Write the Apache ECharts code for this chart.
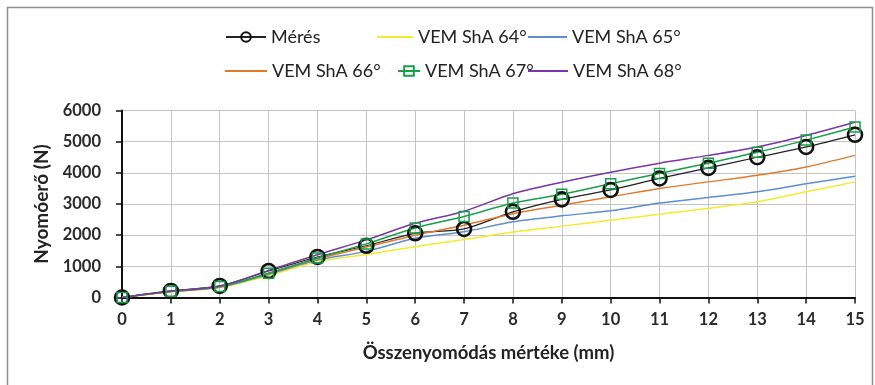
<!DOCTYPE html>
<html>
<head>
<meta charset="utf-8">
<script src="https://cdn.jsdelivr.net/npm/echarts@6/dist/echarts.min.js"></script>
<style>
  html, body { margin: 0; padding: 0; background: #ffffff; }
  #chart { width: 875px; height: 385px; }
</style>
</head>
<body>
<div id="chart"></div>
<script>
// Compression distance (mm)
const xValues = [0, 1, 2, 3, 4, 5, 6, 7, 8, 9, 10, 11, 12, 13, 14, 15];

// Measured compressive force (N)
const meres = [0, 210, 370, 850, 1300, 1660, 2060, 2200, 2750, 3150, 3450, 3820, 4160, 4500, 4830, 5220];

// Simulated curves for each rubber hardness
const sha64 = [0, 180, 320, 700, 1150, 1380, 1630, 1860, 2100, 2290, 2480, 2670, 2860, 3070, 3390, 3710];
const sha65 = [0, 190, 330, 740, 1200, 1480, 1900, 2110, 2430, 2620, 2780, 3030, 3210, 3390, 3650, 3890];
const sha66 = [0, 195, 340, 770, 1240, 1620, 2000, 2320, 2690, 2960, 3230, 3500, 3710, 3920, 4190, 4560];
const sha67 = [0, 200, 350, 780, 1270, 1720, 2230, 2600, 3030, 3310, 3650, 3980, 4310, 4660, 5050, 5470];
const sha68 = [0, 210, 370, 870, 1370, 1850, 2380, 2770, 3330, 3700, 4020, 4310, 4560, 4830, 5200, 5620];

const seriesNames = ['Mérés', 'VEM ShA 64°', 'VEM ShA 65°', 'VEM ShA 66°', 'VEM ShA 67°', 'VEM ShA 68°'];
const yTicks = [0, 1000, 2000, 3000, 4000, 5000, 6000];

const pairs = (ys) => xValues.map((x, i) => [x, ys[i]]);
const FONT = 'Lato, "Open Sans", sans-serif';

const chart = echarts.init(document.getElementById('chart'), null, { renderer: 'canvas' });

function lineSeries(name, ys, color, extra) {
  return Object.assign({
    name: name,
    type: 'line',
    data: pairs(ys),
    smooth: 0.3,
    showSymbol: false,
    symbol: 'none',
    lineStyle: { color: color, width: 1.5 },
    itemStyle: { color: color },
    emphasis: { disabled: true },
    animation: false
  }, extra || {});
}

// One legend block per entry so that the three-column layout can be placed freely.
// Plain-line entries use a thin bar as their key; marker entries keep the series symbol.
function legendItem(name, left, top, width, plain) {
  const item = {
    data: [name],
    left: left,
    top: top,
    padding: 0,
    itemWidth: width,
    itemHeight: plain ? 1.8 : 12,
    selectedMode: false,
    textStyle: { fontFamily: FONT, fontSize: 18, color: '#222' }
  };
  if (plain) item.icon = 'rect';
  return item;
}

chart.setOption({
  backgroundColor: '#ffffff',
  animation: false,
  graphic: [{
    type: 'rect',
    shape: { x: 7.5, y: 7.5, width: 865, height: 390 },
    style: { fill: 'none', stroke: '#8f8f8f', lineWidth: 1.5 },
    silent: true
  }],
  legend: [
    legendItem(seriesNames[0], 225, 28, 40, false),
    legendItem(seriesNames[1], 377, 28, 36, true),
    legendItem(seriesNames[2], 528, 28, 39, true),
    legendItem(seriesNames[3], 225, 62, 42, true),
    legendItem(seriesNames[4], 397, 62, 22, false),
    legendItem(seriesNames[5], 528, 62, 40, true)
  ],
  grid: { left: 122, right: 20, top: 110.5, bottom: 87.5, containLabel: false },
  xAxis: {
    type: 'value',
    min: 0,
    max: 15,
    interval: 1,
    name: 'Összenyomódás mértéke (mm)',
    nameLocation: 'middle',
    nameGap: 46,
    nameTextStyle: { fontFamily: FONT, fontSize: 18.5, fontWeight: 'bold', color: '#222' },
    axisLine: { lineStyle: { color: '#111', width: 2 } },
    axisTick: { show: true, inside: false, length: 6, lineStyle: { color: '#111', width: 1.5 } },
    axisLabel: { margin: 14, fontFamily: FONT, fontSize: 16.5, fontWeight: 'bold', color: '#2a2a2a' },
    splitLine: { show: true, lineStyle: { color: '#c4c4c4', width: 1 } }
  },
  yAxis: {
    type: 'value',
    min: 0,
    max: 6000,
    interval: 1000,
    name: 'Nyomóerő (N)',
    nameLocation: 'middle',
    nameGap: 64,
    nameTextStyle: { fontFamily: FONT, fontSize: 19, fontWeight: 'bold', color: '#222' },
    axisLine: { show: true, lineStyle: { color: '#111', width: 2 } },
    axisTick: { show: true, inside: false, length: 6, lineStyle: { color: '#111', width: 1.5 } },
    axisLabel: {
      margin: 21, fontFamily: FONT, fontSize: 16.5, fontWeight: 'bold', color: '#2a2a2a',
      formatter: (v) => (yTicks.indexOf(v) >= 0 ? String(v) : '')
    },
    splitLine: { show: true, lineStyle: { color: '#c4c4c4', width: 1 } }
  },
  series: [
    lineSeries(seriesNames[0], meres, '#111111', {
      showSymbol: true,
      symbol: 'circle',
      symbolSize: 14,
      lineStyle: { color: '#222', width: 1.25 },
      itemStyle: { color: 'rgba(255,255,255,0)', borderColor: '#111', borderWidth: 2.6 }
    }),
    lineSeries(seriesNames[1], sha64, '#f2ec2e'),
    lineSeries(seriesNames[2], sha65, '#5b8fd0'),
    lineSeries(seriesNames[3], sha66, '#e07b2c'),
    lineSeries(seriesNames[4], sha67, '#16a04a', {
      showSymbol: true,
      symbol: 'rect',
      symbolSize: 10,
      itemStyle: { color: 'rgba(255,255,255,0)', borderColor: '#16a04a', borderWidth: 1.5 }
    }),
    lineSeries(seriesNames[5], sha68, '#7a35a8')
  ]
});
</script>
</body>
</html>
